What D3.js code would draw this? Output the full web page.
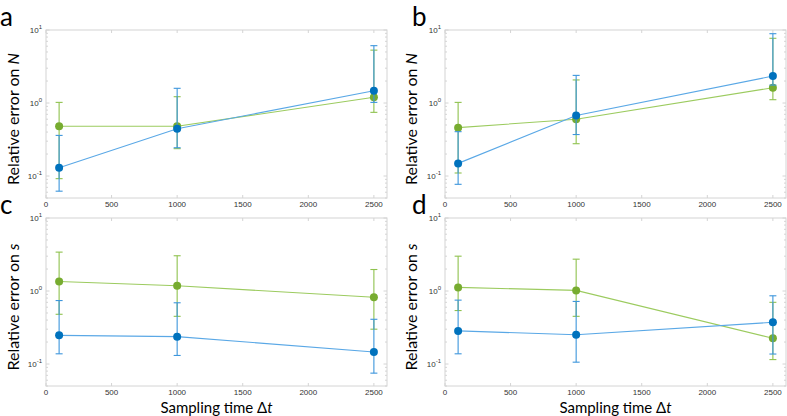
<!DOCTYPE html>
<html>
<head>
<meta charset="utf-8">
<script src="https://cdn.jsdelivr.net/npm/d3@7"></script>
<style>
  body { margin: 0; background: #fff; }
  .tick-label { font-family: "Liberation Sans", Arial, sans-serif; font-size: 8px; fill: #333; }
  .big { font-family: "Lato", "Open Sans", sans-serif; fill: #000; }
</style>
</head>
<body>
<div class="chart"></div>
<script>
// sampling times
var xs = [100, 1000, 2500];
var xTicks = [0, 500, 1000, 1500, 2000, 2500];
var yTickExps = [-1, 0, 1];

// panel a (error on N)
var aGreen   = [0.48, 0.48, 1.2];
var aGreenLo = [0.092, 0.237, 0.745];
var aGreenHi = [1.02, 1.22, 5.3];
var aBlue    = [0.13, 0.445, 1.47];
var aBlueLo  = [0.062, 0.244, 1.02];
var aBlueHi  = [0.36, 1.59, 6.1];

// panel b (error on N)
var bGreen   = [0.46, 0.60, 1.62];
var bGreenLo = [0.11, 0.277, 1.11];
var bGreenHi = [1.02, 2.07, 7.7];
var bBlue    = [0.149, 0.675, 2.34];
var bBlueLo  = [0.077, 0.37, 1.76];
var bBlueHi  = [0.405, 2.39, 8.9];

// panel c (error on s)
var cGreen   = [1.35, 1.18, 0.82];
var cGreenLo = [0.48, 0.45, 0.30];
var cGreenHi = [3.41, 3.04, 1.97];
var cBlue    = [0.247, 0.237, 0.146];
var cBlueLo  = [0.138, 0.131, 0.075];
var cBlueHi  = [0.74, 0.69, 0.41];

// panel d (error on s)
var dGreen   = [1.12, 1.02, 0.225];
var dGreenLo = [0.54, 0.45, 0.115];
var dGreenHi = [3.0, 2.73, 0.70];
var dBlue    = [0.284, 0.252, 0.373];
var dBlueLo  = [0.138, 0.106, 0.137];
var dBlueHi  = [0.75, 0.72, 0.86];

var width = 787;
var height = 416;

var svg = d3.select('.chart').append('svg')
            .attr('width', width)
            .attr('height', height);

function zip(m, lo, hi) {
  return xs.map(function(x, i) { return { x: x, y: m[i], lo: lo[i], hi: hi[i] }; });
}

var panels = [
  { letter: 'a', varName: 'N', left: 46,  top: 30,  green: zip(aGreen, aGreenLo, aGreenHi), blue: zip(aBlue, aBlueLo, aBlueHi), xlabel: false },
  { letter: 'b', varName: 'N', left: 445, top: 30,  green: zip(bGreen, bGreenLo, bGreenHi), blue: zip(bBlue, bBlueLo, bBlueHi), xlabel: false },
  { letter: 'c', varName: 's', left: 46,  top: 218, green: zip(cGreen, cGreenLo, cGreenHi), blue: zip(cBlue, cBlueLo, cBlueHi), xlabel: true },
  { letter: 'd', varName: 's', left: 445, top: 218, green: zip(dGreen, dGreenLo, dGreenHi), blue: zip(dBlue, dBlueLo, dBlueHi), xlabel: true }
];

var pw = 341, ph = 168;
var frameColor = '#d4d4d4';

var styles = {
  green: { line: '#9ccb5f', bar: '#8fc24e', dot: '#77ac30' },
  blue:  { line: '#5aa8e6', bar: '#3d96dc', dot: '#0072bd' }
};

panels.forEach(function(p) {
  var x = d3.scaleLinear().domain([0, 2600]).range([0, pw]);
  var y = d3.scaleLog().domain([0.05, 10]).range([ph, 0]);

  var g = svg.append('g').attr('transform', 'translate(' + p.left + ',' + p.top + ')');

  // frame
  g.append('rect').attr('width', pw).attr('height', ph)
    .attr('fill', 'none').attr('stroke', frameColor).attr('stroke-width', 1);

  // x ticks (inward, top and bottom)
  xTicks.forEach(function(t) {
    var px = x(t);
    g.append('line').attr('x1', px).attr('x2', px).attr('y1', ph).attr('y2', ph - 3).attr('stroke', frameColor);
    g.append('line').attr('x1', px).attr('x2', px).attr('y1', 0).attr('y2', 3).attr('stroke', frameColor);
    g.append('text').attr('class', 'tick-label').attr('x', px).attr('y', ph + 9)
      .attr('text-anchor', 'middle').text(t);
  });

  // y ticks, major + minor, left and right
  var minor = [];
  [-2, -1, 0].forEach(function(e) {
    for (var k = 2; k <= 9; k++) {
      var v = k * Math.pow(10, e);
      if (v >= 0.05 && v <= 10) minor.push(v);
    }
  });
  minor.forEach(function(v) {
    var py = y(v);
    g.append('line').attr('x1', 0).attr('x2', 2).attr('y1', py).attr('y2', py).attr('stroke', frameColor);
    g.append('line').attr('x1', pw).attr('x2', pw - 2).attr('y1', py).attr('y2', py).attr('stroke', frameColor);
  });
  yTickExps.forEach(function(e) {
    var py = y(Math.pow(10, e));
    g.append('line').attr('x1', 0).attr('x2', 3.5).attr('y1', py).attr('y2', py).attr('stroke', frameColor);
    g.append('line').attr('x1', pw).attr('x2', pw - 3.5).attr('y1', py).attr('y2', py).attr('stroke', frameColor);
    var t = g.append('text').attr('class', 'tick-label').attr('x', -4).attr('y', py + 3)
      .attr('text-anchor', 'end');
    t.append('tspan').text('10');
    t.append('tspan').attr('dy', -4).style('font-size', '6px').text(e);
  });

  // series
  ['green', 'blue'].forEach(function(key) {
    var data = p[key];
    var st = styles[key];
    var line = d3.line().x(function(d) { return x(d.x); }).y(function(d) { return y(d.y); });

    g.append('path').attr('d', line(data)).attr('fill', 'none')
      .attr('stroke', st.line).attr('stroke-width', 1.1);

    data.forEach(function(d) {
      var px = x(d.x);
      g.append('line').attr('x1', px).attr('x2', px).attr('y1', y(d.lo)).attr('y2', y(d.hi))
        .attr('stroke', st.bar).attr('stroke-width', 1.1);
      [d.lo, d.hi].forEach(function(v) {
        g.append('line').attr('x1', px - 3.5).attr('x2', px + 3.5).attr('y1', y(v)).attr('y2', y(v))
          .attr('stroke', st.bar).attr('stroke-width', 1.1);
      });
    });

    g.selectAll('circle.' + key).data(data).enter().append('circle')
      .attr('class', key)
      .attr('cx', function(d) { return x(d.x); })
      .attr('cy', function(d) { return y(d.y); })
      .attr('r', 4)
      .attr('fill', st.dot);
  });

  // y label
  var yl = g.append('text').attr('class', 'big').style('font-size', '16px')
    .attr('text-anchor', 'middle')
    .attr('transform', 'translate(' + (p.left === 46 ? -27 : -28) + ',' + (ph / 2 + 5) + ') rotate(-90)');
  yl.append('tspan').text('Relative error on ');
  yl.append('tspan').style('font-style', 'italic').text(p.varName);

  // x label
  if (p.xlabel) {
    var xl = g.append('text').attr('class', 'big').style('font-size', '15px')
      .attr('text-anchor', 'middle').attr('x', pw / 2).attr('y', ph + 27);
    xl.append('tspan').text('Sampling time \u0394');
    xl.append('tspan').style('font-style', 'italic').text('t');
  }

  // panel letter
  svg.append('text').attr('class', 'big').style('font-size', '26px')
    .attr('x', p.left - 46 + (p.left === 46 ? 0 : 13))
    .attr('y', p.top - 4)
    .text(p.letter);
});
</script>
</body>
</html>
